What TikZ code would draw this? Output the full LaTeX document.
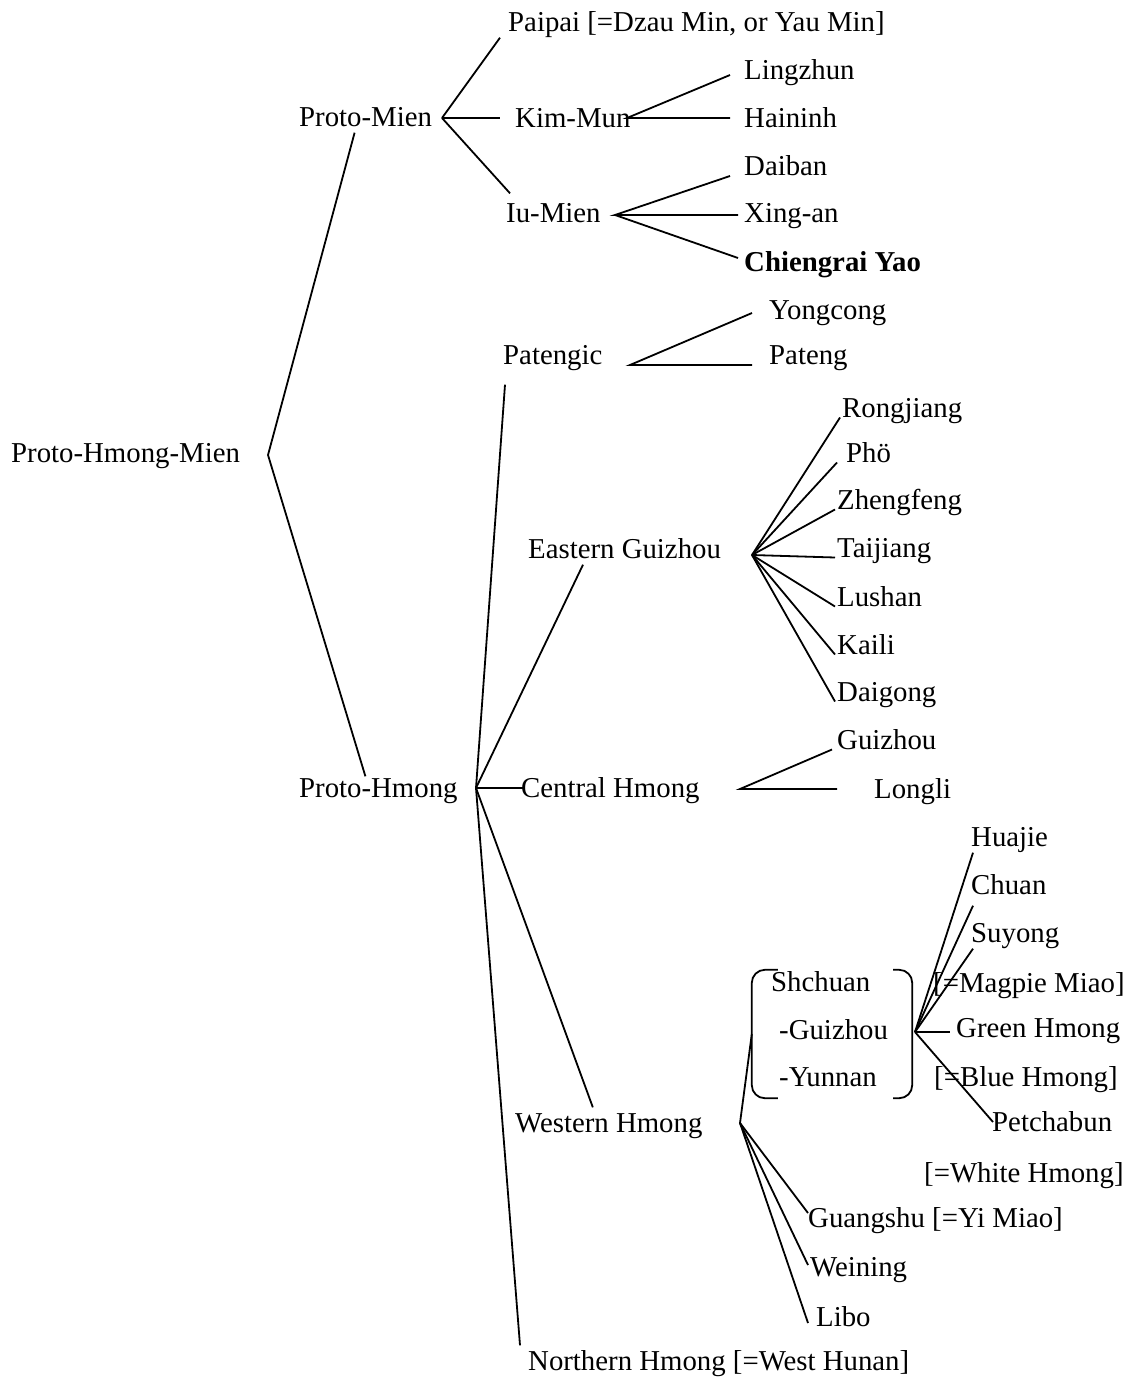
\documentclass[tikz,border=0pt]{standalone}
\usepackage{fontspec}
\setmainfont{Liberation Serif}
\usepackage{tikz}

\begin{document}
\begin{tikzpicture}[
  x=1pt, y=-1pt,
  lang/.style={anchor=west, inner sep=2pt, text height=23pt, text depth=4pt, font=\fontsize{28.8}{34}\selectfont},
  link/.style={draw=black, line width=1.8pt},
  bracketbox/.style={rectangle, inner sep=0pt, minimum width=160pt, minimum height=128pt}
]
\useasboundingbox[fill=white] (0,0) rectangle (1136,1378);

% top levels
\node[lang] (phm) at (9,453) {Proto-Hmong-Mien};
\node[lang] (pm) at (297,117) {Proto-Mien};
\node[lang] (ph) at (297,788) {Proto-Hmong};

% Mien branch
\node[lang] (pp) at (506,22) {Paipai [=Dzau Min, or Yau Min]};
\node[lang] (km) at (513,118) {Kim-Mun};
\node[lang] (iu) at (504,213) {Iu-Mien};
\node[lang] (lz) at (742,70) {Lingzhun};
\node[lang] (hn) at (742,118) {Haininh};
\node[lang] (db) at (742,166) {Daiban};
\node[lang] (xa) at (742,213) {Xing-an};
\node[lang] (cy) at (742,262) {\textbf{Chiengrai Yao}};

% Hmong branch
\node[lang] (pat) at (501,355) {Patengic};
\node[lang] (yc) at (767,310) {Yongcong};
\node[lang] (pg) at (767,355) {Pateng};
\node[lang] (eg) at (526,549) {Eastern Guizhou};
\node[lang] (rj) at (840,408) {Rongjiang};
\node[lang] (pho) at (844,453) {Phö};
\node[lang] (zf) at (835,500) {Zhengfeng};
\node[lang] (tj) at (835,548) {Taijiang};
\node[lang] (ls) at (835,597) {Lushan};
\node[lang] (kl) at (835,645) {Kaili};
\node[lang] (dg) at (835,692) {Daigong};
\node[lang] (ch) at (519,788) {Central Hmong};
\node[lang] (gz) at (835,740) {Guizhou};
\node[lang] (ll) at (872,789) {Longli};
\node[lang] (wh) at (513,1123) {Western Hmong};
\node[lang] (nh) at (526,1361) {Northern Hmong [=West Hunan]};

% Sichuan-Guizhou-Yunnan group
\node[bracketbox] (sgyb) at (832,1034) {};
\node[lang] (sc) at (769,982) {Shchuan};
\node[lang] (sgz) at (777,1030) {-Guizhou};
\node[lang] (syn) at (777,1077) {-Yunnan};
\node[lang] (hj) at (969,837) {Huajie};
\node[lang] (cn) at (969,885) {Chuan};
\node[lang] (sy) at (969,933) {Suyong};
\node[lang] (mm) at (931,983) {[=Magpie Miao]};
\node[lang] (gh) at (954,1028) {Green Hmong};
\node[lang] (bh) at (932,1077) {[=Blue Hmong]};
\node[lang] (pb) at (990,1122) {Petchabun};
\node[lang] (whm) at (922,1173) {[=White Hmong]};
\node[lang] (gs) at (806,1218) {Guangshu [=Yi Miao]};
\node[lang] (wn) at (808,1267) {Weining};
\node[lang] (lb) at (814,1317) {Libo};

% fork points
\coordinate (phmf) at (268,455);
\coordinate (pmf) at (442,118);
\coordinate (kmf) at (627,118);
\coordinate (iuf) at (615,215);
\coordinate (patf) at (630,365);
\coordinate (phf) at (476,788);
\coordinate (egf) at (752,555);
\coordinate (chf) at (740,789);
\coordinate (whf) at (740,1123);
\coordinate (sgyf) at (915,1032);

\draw[link] ([xshift=-11pt]pm.south) -- (phmf) -- ([xshift=-13pt,yshift=-4pt]ph.north);

\draw[link] ([xshift=-6pt]pp.south west) -- (pmf);
\draw[link] (pmf) -- ([xshift=-13pt]km.west);
\draw[link] (pmf) -- ([xshift=6pt,yshift=4pt]iu.north west);
\draw[link] ([xshift=-12pt,yshift=-5pt]lz.west) -- (kmf) -- ([xshift=-12pt]hn.west);
\draw[link] ([xshift=-12pt,yshift=-10pt]db.west) -- (iuf) -- ([xshift=-4pt,yshift=-2pt]xa.west);
\draw[link] (iuf) -- ([xshift=-4pt,yshift=4pt]cy.west);

\draw[link] ([xshift=-15pt,yshift=-3pt]yc.west) -- (patf) -- ([xshift=-15pt,yshift=-10pt]pg.west);
\draw[link] ([xshift=4pt,yshift=-14pt]pat.south west) -- (phf);
\draw[link] ([xshift=57pt]eg.south west) -- (phf);
\draw[link] (phf) -- ([xshift=4pt]ch.west);
\draw[link] (phf) -- ([xshift=-16pt]wh.north);
\draw[link] (phf) -- ([xshift=-6pt]nh.north west);

\draw[link] (egf) -- (rj.base west);
\draw[link] (egf) -- ([xshift=-7pt]pho.base west);
\draw[link] (egf) -- (zf.base west);
\draw[link] (egf) -- (tj.base west);
\draw[link] (egf) -- (ls.base west);
\draw[link] (egf) -- (kl.base west);
\draw[link] (egf) -- (dg.base west);

\draw[link] ([xshift=-3pt]gz.base west) -- (chf) -- ([xshift=-35pt]ll.west);

\draw[link] (sgyb.west) -- (whf);
\draw[link] (whf) -- ([xshift=2pt,yshift=5pt]gs.west);
\draw[link] (whf) -- ([yshift=2pt]wn.west);
\draw[link] (whf) -- ([xshift=-6pt,yshift=-6pt]lb.west);

\draw[link, rounded corners=13pt] ([xshift=26pt]sgyb.north west) -- (sgyb.north west) -- (sgyb.south west) -- ([xshift=26pt]sgyb.south west);
\draw[link, rounded corners=13pt] ([xshift=-19pt]sgyb.north east) -- (sgyb.north east) -- (sgyb.south east) -- ([xshift=-19pt]sgyb.south east);

\draw[link] (sgyf) -- ([xshift=4pt]hj.south west);
\draw[link] (sgyf) -- ([xshift=4pt,yshift=-5pt]cn.south west);
\draw[link] (sgyf) -- ([xshift=4pt]sy.south west);
\draw[link] (sgyf) -- ([xshift=-4pt,yshift=-4pt]gh.west);
\draw[link] (sgyf) -- ([xshift=3pt]pb.west);
\end{tikzpicture}
\end{document}
